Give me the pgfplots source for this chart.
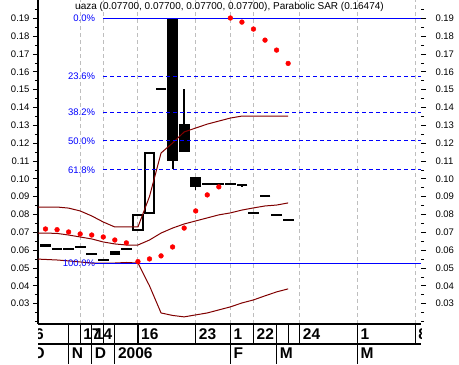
\documentclass[border=0pt]{standalone}
\usepackage{pgfplots}
\pgfplotsset{compat=1.18}
\usepackage{fontspec}
\setmainfont{Liberation Sans}
\begin{document}
\begin{tikzpicture}
\definecolor{bb}{RGB}{128,0,0}
\definecolor{fib}{RGB}{0,0,255}
\definecolor{sar}{RGB}{255,0,0}
\definecolor{gridc}{RGB}{190,190,190}
\pgfplotsset{
  base/.style={
    scale only axis, width=383pt, height=324pt,
    xmin=-0.65, xmax=32.5, ymin=0.0186, ymax=0.2003,
    ytick={0.03,0.04,0.05,0.06,0.07,0.08,0.09,0.10,0.11,0.12,0.13,0.14,0.15,0.16,0.17,0.18,0.19},
    minor ytick={0.02,0.025,0.035,0.045,0.055,0.065,0.075,0.085,0.095,0.105,0.115,0.125,0.135,0.145,0.155,0.165,0.175,0.185,0.195},
    tick align=outside,
    major tick length=5pt, minor tick length=3pt,
    y tick style={black, line width=0.8pt},
    yticklabel style={font=\fontsize{9.5}{10}\selectfont, /pgf/number format/fixed, /pgf/number format/fixed zerofill, /pgf/number format/precision=2, /pgf/number format/assume math mode=true},
  }
}
\begin{axis}[base,
  axis x line*=bottom, axis y line*=left,
  axis line style={black, line width=1.2pt},
  xtick={3,5,8,13,16,18,22,27,32}, xticklabels={},
  xmajorgrids, major grid style={gridc, dash pattern=on 4pt off 3pt, line width=1pt},
  x tick style={draw=none},
  clip=true,
]
% ---- candles: bodies ----
\addplot[draw=none, fill=black] coordinates {(10.525,0.1100) (11.475,0.1100) (11.475,0.1900) (10.525,0.1900)} -- cycle;
\addplot[draw=none, fill=black] coordinates {(11.525,0.1151) (12.475,0.1151) (12.475,0.1308) (11.525,0.1308)} -- cycle;
\addplot[draw=none, fill=black] coordinates {(12.525,0.0954) (13.475,0.0954) (13.475,0.1011) (12.525,0.1011)} -- cycle;
\addplot[black, line width=2pt] coordinates {(7.57,0.0714) (8.43,0.0714) (8.43,0.0797) (7.57,0.0797)} -- cycle;
\addplot[black, line width=2pt] coordinates {(8.57,0.0809) (9.43,0.0809) (9.43,0.1145) (8.57,0.1145)} -- cycle;
% ---- wicks ----
\addplot[black, line width=2pt] coordinates {(11,0.1100) (11,0.1055)};
\addplot[black, line width=2pt] coordinates {(12,0.1308) (12,0.1504)};
\addplot[black, line width=1.5pt] coordinates {(13,0.0954) (13,0.0940)};
\addplot[black, line width=1.5pt] coordinates {(17,0.0963) (17,0.0955)};
\addplot[black, line width=1.5pt] coordinates {(20,0.0797) (20,0.0790)};
\addplot[black, line width=1.5pt] coordinates {(21,0.0770) (21,0.0763)};
% ---- doji-like dashes ----
\addplot[only marks, mark=-, mark size=5.4pt, mark options={black, line width=2pt}] coordinates {
 (1,0.0607) (2,0.0607) (3,0.0618) (4,0.0579) (5,0.0545) (7,0.0607)
 (10,0.1505) (14,0.0970) (15,0.0970) (16,0.0970) (17,0.0963)
 (18,0.0811) (19,0.0904) (20,0.0797) (21,0.0770)};
\addplot[only marks, mark=-, mark size=5.4pt, mark options={black, line width=3pt}] coordinates {(0,0.0624)};
\addplot[only marks, mark=-, mark size=5.2pt, mark options={black, line width=4pt}] coordinates {(6,0.0584)};
% ---- Bollinger bands ----
\addplot[bb, line width=1pt] coordinates {
 (-1,0.0842) (0,0.0842) (1,0.0842) (2,0.0836) (3,0.0820) (4,0.0792) (5,0.0758) (6,0.0730) (7,0.0730) (8,0.0730)
 (9,0.0901) (10,0.1145) (11,0.1201) (12,0.1263) (13,0.1285) (14,0.1307) (15,0.1324) (16,0.1341) (17,0.1352)
 (18,0.1352) (19,0.1352) (20,0.1352) (21,0.1352)};
\addplot[bb, line width=1pt] coordinates {
 (-1,0.0696) (0,0.0696) (1,0.0694) (2,0.0685) (3,0.0674) (4,0.0663) (5,0.0646) (6,0.0635) (7,0.0629) (8,0.0629)
 (9,0.0657) (10,0.0696) (11,0.0724) (12,0.0747) (13,0.0764) (14,0.0781) (15,0.0798) (16,0.0809) (17,0.0825)
 (18,0.0837) (19,0.0848) (20,0.0853) (21,0.0865)};
\addplot[bb, line width=1pt] coordinates {
 (-1,0.0551) (0,0.0548) (1,0.0545) (2,0.0540) (3,0.0534) (4,0.0528) (5,0.0528) (6,0.0528) (7,0.0531) (8,0.0528)
 (9,0.0400) (10,0.0248) (11,0.0234) (12,0.0226) (13,0.0237) (14,0.0248) (15,0.0265) (16,0.0282) (17,0.0304)
 (18,0.0321) (19,0.0344) (20,0.0366) (21,0.0383)};
% ---- Fibonacci levels ----
\addplot[fib, line width=1pt] coordinates {(5,0.19) (32.5,0.19)};
\addplot[fib, line width=1pt, dash pattern=on 4pt off 3pt] coordinates {(5,0.15755) (32.5,0.15755)};
\addplot[fib, line width=1pt, dash pattern=on 4pt off 3pt] coordinates {(5,0.137475) (32.5,0.137475)};
\addplot[fib, line width=1pt, dash pattern=on 4pt off 3pt] coordinates {(5,0.12125) (32.5,0.12125)};
\addplot[fib, line width=1pt, dash pattern=on 4pt off 3pt] coordinates {(5,0.105025) (32.5,0.105025)};
\addplot[fib, line width=1pt] coordinates {(4.3,0.0525) (32.5,0.0525)};
\begin{scope}[every node/.style={anchor=east, text=fib, inner sep=0pt, font=\fontsize{9.5}{10}\selectfont}]
\node at (axis cs:4.3,0.19) {0.0\%};
\node at (axis cs:4.3,0.15755) {23.6\%};
\node at (axis cs:4.3,0.137475) {38.2\%};
\node at (axis cs:4.3,0.12125) {50.0\%};
\node at (axis cs:4.3,0.105025) {61.8\%};
\node at (axis cs:4.3,0.0525) {100.0\%};
\end{scope}
% ---- Parabolic SAR ----
\addplot[only marks, mark=*, mark size=2.4pt, mark options={draw=sar, fill=sar}] coordinates {
 (0,0.0719) (1,0.0715) (2,0.0702) (3,0.0691) (4,0.0685) (5,0.0674) (6,0.0657) (7,0.0641)
 (8,0.0536) (9,0.0551) (10,0.0568) (11,0.0618) (12,0.0724) (13,0.0820) (14,0.0910) (15,0.0955)
 (16,0.1902) (17,0.1879) (18,0.1840) (19,0.1778) (20,0.1722) (21,0.16474)};
% ---- title ----
\node[anchor=north, inner sep=0pt, font=\fontsize{10}{12}\selectfont] at (rel axis cs:0.5,0.994)
  {uaza (0.07700, 0.07700, 0.07700, 0.07700), Parabolic SAR (0.16474)};
% ---- coordinates for the date band ----
\coordinate (bl) at (rel axis cs:0,0);
\coordinate (br) at (rel axis cs:1,0);
\pgfplotsinvokeforeach{2,3,4,5,6,8,13,16,18,20,21,22,27,32}{\coordinate (s#1) at (axis cs:#1,0.0186);}
\end{axis}
\begin{axis}[base,
  axis y line*=right, axis x line=none,
  y axis line style={draw=none},
  yticklabel style={anchor=west, xshift=6pt},
]
\addplot[draw=none] coordinates {(0,0.1)};
\end{axis}
% ---- date band ----
\begin{scope}
\clip (bl) rectangle ([yshift=-40pt]br);
\draw[line width=1.2pt] ([yshift=-20pt]bl) -- ([yshift=-20pt]br);
\foreach \s in {2,3,4,5,6,8,13,16,18,20,21,22,27,32} \draw[line width=1.2pt] (s\s) -- ++(0,-20pt);
\foreach \s in {2,4,6,16,20,27} \draw[line width=1.2pt] ([yshift=-20pt]s\s) -- ++(0,-20pt);
\begin{scope}[every node/.style={anchor=west, inner sep=0pt, font=\bfseries\fontsize{15.5}{16}\selectfont}]
\node[anchor=east] at ([xshift=6pt,yshift=-10.5pt]bl) {16};
\node at ([xshift=3pt,yshift=-10.5pt]s3) {17};
\node at ([xshift=3pt,yshift=-10.5pt]s4) {14};
\node at ([xshift=3pt,yshift=-10.5pt]s8) {16};
\node at ([xshift=3pt,yshift=-10.5pt]s13) {23};
\node at ([xshift=3pt,yshift=-10.5pt]s16) {1};
\node at ([xshift=3pt,yshift=-10.5pt]s18) {22};
\node at ([xshift=3pt,yshift=-10.5pt]s22) {24};
\node at ([xshift=3pt,yshift=-10.5pt]s27) {1};
\node at ([xshift=3pt,yshift=-10.5pt]s32) {8};
\node at ([xshift=-5.5pt,yshift=-29.5pt]bl) {O};
\node at ([xshift=3pt,yshift=-29.5pt]s2) {N};
\node at ([xshift=3pt,yshift=-29.5pt]s4) {D};
\node at ([xshift=3pt,yshift=-29.5pt]s6) {2006};
\node at ([xshift=3pt,yshift=-29.5pt]s16) {F};
\node at ([xshift=3pt,yshift=-29.5pt]s20) {M};
\node at ([xshift=3pt,yshift=-29.5pt]s27) {M};
\end{scope}
\end{scope}
\pgfresetboundingbox
\path[use as bounding box] ([xshift=-38pt,yshift=-40pt]bl) rectangle ([xshift=38pt,yshift=324pt]br);
\end{tikzpicture}
\end{document}
